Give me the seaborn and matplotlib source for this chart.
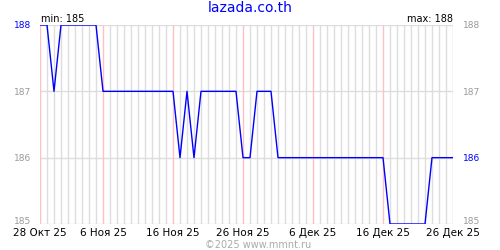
import numpy as np
import pandas as pd
import matplotlib
matplotlib.use("Agg")
import matplotlib.pyplot as plt
import matplotlib.transforms as mtransforms
import seaborn as sns

start_date = "2025-10-28"
prices = [188, 188, 187, 188, 188, 188, 188, 188, 188,
          187, 187, 187, 187, 187, 187, 187, 187, 187, 187, 187,
          186, 187, 186, 187, 187, 187, 187, 187, 187,
          186, 186, 187, 187, 187,
          186, 186, 186, 186, 186, 186, 186, 186, 186, 186, 186, 186, 186, 186, 186, 186,
          185, 185, 185, 185, 185, 185,
          186, 186, 186, 186]
tick_dates = ["2025-10-28", "2025-11-06", "2025-11-16", "2025-11-26",
              "2025-12-06", "2025-12-16", "2025-12-26"]
tick_labels = ["28 Окт 25", "6 Ноя 25", "16 Ноя 25", "26 Ноя 25",
               "6 Дек 25", "16 Дек 25", "26 Дек 25"]
y_ticks = [185, 186, 187, 188]
title = "lazada.co.th"

dates = pd.date_range(start_date, periods=len(prices), freq="D")
df = pd.DataFrame({"date": dates, "price": prices})

sns.set_style("white")
plt.rcParams["font.family"] = ["DejaVu Sans"]

fig = plt.figure(figsize=(5, 2.5), dpi=100)
ax = fig.add_axes([0.08, 0.104, 0.826, 0.796])

px = 0.72  # one pixel in points at 100 dpi
tdates = pd.to_datetime(tick_dates)
tset = set(tdates.strftime("%Y-%m-%d"))
plain = [d for d in dates if d.strftime("%Y-%m-%d") not in tset]
ax.vlines(plain, 185, 188, colors="#dddddd", lw=1.0, zorder=0, snap=True)
ax.vlines(tdates, 185, 188, colors="#ffc0c0", lw=1.0, zorder=0.5, snap=True)
ax.hlines(y_ticks, dates[0], dates[-1], colors="#dddddd", lw=1.0, zorder=0.2, snap=True)

sns.lineplot(data=df, x="date", y="price", ax=ax, color="#0000ff", lw=1.0, zorder=3)

ax.set_xlim(dates[0], dates[-1])
ax.set_ylim(185, 188)
for s in ax.spines.values():
    s.set_visible(False)
ax.set_xlabel("")
ax.set_ylabel("")
ax.set_xticks(tdates)
ax.set_xticklabels(tick_labels, fontsize=7.5, color="black")
ax.tick_params(axis="x", length=0, pad=3)
ax.set_yticks(y_ticks)
ax.set_yticklabels([str(v) for v in y_ticks], fontsize=6.5, color="#999999")
ax.tick_params(axis="y", length=0, pad=6)
first = prices[0]
last = prices[-1]
shift_up = mtransforms.ScaledTranslation(0, 2.5 / 72, fig.dpi_scale_trans)
for lbl, v in zip(ax.get_yticklabels(), y_ticks):
    if v == first:
        lbl.set_color("#0000ff")
    if v == 185:
        lbl.set_transform(lbl.get_transform() + shift_up)

ax2 = ax.twinx()
ax2.set_ylim(185, 188)
ax2.set_yticks(y_ticks)
ax2.set_yticklabels([str(v) for v in y_ticks], fontsize=6.5, color="#999999")
ax2.tick_params(axis="y", length=0, pad=7)
for lbl, v in zip(ax2.get_yticklabels(), y_ticks):
    if v == last:
        lbl.set_color("#0000ff")
    if v == 185:
        lbl.set_transform(lbl.get_transform() + shift_up)
for s in ax2.spines.values():
    s.set_visible(False)

fig.text(0.5, 0.966, title, ha="center", va="center", fontsize=10, color="#0000ff")
ax.text(0.002, 1.005, f"min: {min(prices)}", transform=ax.transAxes,
        ha="left", va="bottom", fontsize=7, color="black")
ax.text(1.0, 1.005, f"max: {max(prices)}", transform=ax.transAxes,
        ha="right", va="bottom", fontsize=7, color="black")
fig.text(0.516, 0.022, "©2025 www.mmnt.ru", ha="center", va="center",
         fontsize=7, color="#aaaaaa")

fig.savefig("out.png", dpi=100)
